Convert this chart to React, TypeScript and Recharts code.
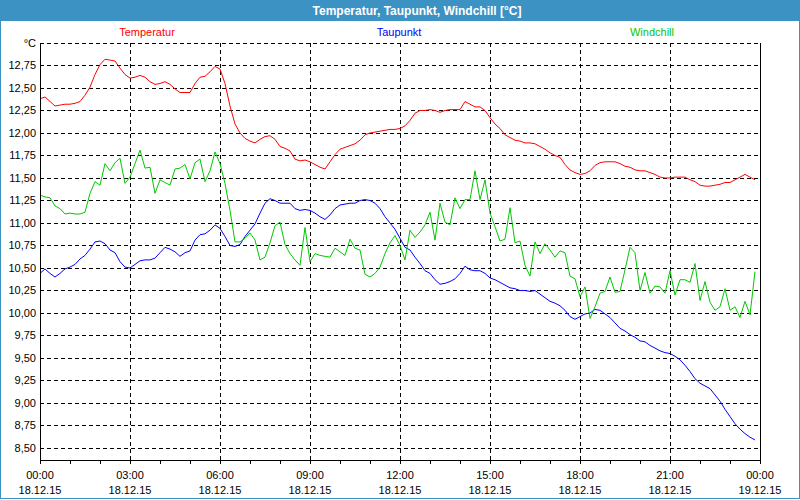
import React from "react";
import { LineChart, Line, XAxis, YAxis, CartesianGrid, ReferenceLine } from "recharts";

// 10-minute samples, 18.12.15 00:00 .. 23:50 (6 per row = one hour)
const temperature = [
  12.38, 12.40, 12.35, 12.30, 12.31, 12.32,
  12.32, 12.33, 12.35, 12.42, 12.51, 12.65,
  12.76, 12.82, 12.81, 12.80, 12.72, 12.65,
  12.61, 12.62, 12.64, 12.62, 12.57, 12.54,
  12.55, 12.57, 12.54, 12.49, 12.45, 12.45,
  12.45, 12.55, 12.62, 12.63, 12.68, 12.74,
  12.71, 12.55, 12.30, 12.10, 12.00, 11.94,
  11.91, 11.89, 11.93, 11.96, 11.97, 11.93,
  11.85, 11.83, 11.80, 11.71, 11.69, 11.70,
  11.68, 11.65, 11.62, 11.60, 11.68, 11.76,
  11.82, 11.84, 11.86, 11.88, 11.92, 11.98,
  12.00, 12.01, 12.02, 12.03, 12.04, 12.04,
  12.05, 12.08, 12.14, 12.22, 12.25, 12.25,
  12.26, 12.25, 12.23, 12.25, 12.26, 12.26,
  12.26, 12.35, 12.32, 12.29, 12.29, 12.25,
  12.17, 12.10, 12.05, 11.98, 11.95, 11.92,
  11.91, 11.89, 11.89, 11.88, 11.85, 11.82,
  11.78, 11.75, 11.73, 11.65, 11.59, 11.56,
  11.54, 11.55, 11.58, 11.64, 11.67, 11.68,
  11.68, 11.68, 11.66, 11.63, 11.62, 11.59,
  11.58, 11.58, 11.56, 11.54, 11.51, 11.50,
  11.50, 11.51, 11.51, 11.51, 11.48, 11.46,
  11.42, 11.41, 11.41, 11.42, 11.43, 11.45,
  11.45, 11.48, 11.51, 11.54, 11.51, 11.48,
];

const dewpoint = [
  10.44, 10.49, 10.44, 10.40, 10.44, 10.49,
  10.51, 10.54, 10.60, 10.64, 10.71, 10.79,
  10.80, 10.77, 10.70, 10.67, 10.57, 10.51,
  10.50, 10.54, 10.58, 10.59, 10.59, 10.61,
  10.67, 10.73, 10.71, 10.68, 10.63, 10.67,
  10.69, 10.81, 10.87, 10.88, 10.92, 10.98,
  10.94, 10.85, 10.75, 10.74, 10.76, 10.85,
  10.92, 10.99, 11.11, 11.22, 11.27, 11.25,
  11.22, 11.22, 11.22, 11.16, 11.14, 11.15,
  11.14, 11.11, 11.07, 11.04, 11.09, 11.16,
  11.20, 11.21, 11.22, 11.22, 11.25, 11.26,
  11.25, 11.22, 11.16, 11.07, 11.00, 10.93,
  10.83, 10.73, 10.70, 10.62, 10.55, 10.47,
  10.44, 10.37, 10.32, 10.33, 10.35, 10.38,
  10.44, 10.52, 10.48, 10.47, 10.47, 10.44,
  10.39, 10.37, 10.34, 10.31, 10.28, 10.27,
  10.25, 10.25, 10.24, 10.25, 10.21, 10.17,
  10.13, 10.11, 10.08, 10.03, 9.96, 9.93,
  9.96, 9.99, 10.00, 10.04, 10.03, 9.99,
  9.95, 9.89, 9.83, 9.80, 9.76, 9.73,
  9.69, 9.68, 9.64, 9.61, 9.58, 9.56,
  9.55, 9.52, 9.48, 9.42, 9.35, 9.27,
  9.22, 9.19, 9.16, 9.09, 9.02, 8.93,
  8.85, 8.77, 8.71, 8.66, 8.62, 8.59,
];

const windchill = [
  11.31, 11.29, 11.28, 11.19, 11.16, 11.10,
  11.11, 11.10, 11.10, 11.12, 11.33, 11.46,
  11.42, 11.66, 11.58, 11.67, 11.72, 11.44,
  11.51, 11.66, 11.81, 11.61, 11.62, 11.33,
  11.48, 11.45, 11.42, 11.60, 11.61, 11.65,
  11.49, 11.67, 11.71, 11.46, 11.58, 11.79,
  11.66, 11.44, 11.14, 10.79, 10.79, 10.83,
  10.89, 10.81, 10.59, 10.62, 10.78, 10.97,
  11.01, 10.76, 10.66, 10.59, 10.53, 10.95,
  10.57, 10.66, 10.64, 10.63, 10.62, 10.72,
  10.68, 10.64, 10.82, 10.72, 10.70, 10.43,
  10.40, 10.44, 10.51, 10.66, 10.78, 10.86,
  10.75, 10.59, 10.92, 10.84, 10.90, 10.98,
  11.12, 10.81, 11.22, 11.01, 10.98, 11.28,
  11.16, 11.26, 11.26, 11.58, 11.26, 11.48,
  11.11, 10.96, 10.80, 10.82, 11.17, 10.78,
  10.80, 10.53, 10.41, 10.79, 10.66, 10.77,
  10.70, 10.62, 10.69, 10.67, 10.41, 10.38,
  10.18, 10.29, 9.94, 10.07, 10.22, 10.24,
  10.40, 10.23, 10.24, 10.48, 10.73, 10.67,
  10.25, 10.45, 10.22, 10.30, 10.29, 10.22,
  10.47, 10.20, 10.37, 10.37, 10.34, 10.55,
  10.14, 10.35, 10.12, 10.03, 10.07, 10.27,
  10.03, 10.07, 9.95, 10.13, 9.98, 10.46,
];

const hourTicks = [0, 1, 2, 3, 4, 5, 6, 7, 8, 9, 10, 11, 12, 13, 14, 15, 16, 17, 18, 19, 20, 21, 22, 23, 24];
const gridHours = [3, 6, 9, 12, 15, 18, 21, 24];
const timeLabels = ["00:00", "03:00", "06:00", "09:00", "12:00", "15:00", "18:00", "21:00", "00:00"];
const dateLabels = ["18.12.15", "18.12.15", "18.12.15", "18.12.15", "18.12.15", "18.12.15", "18.12.15", "18.12.15", "19.12.15"];
const yTicks = [8.5, 8.75, 9, 9.25, 9.5, 9.75, 10, 10.25, 10.5, 10.75, 11, 11.25, 11.5, 11.75, 12, 12.25, 12.5, 12.75, 13];

const data = temperature.map((v, i) => ({
  t: i / 6,
  temp: v,
  dew: dewpoint[i],
  wind: windchill[i],
}));

const FONT = "'Liberation Sans', Arial, sans-serif";
const BAR = "#3d92c4";

const XTick = (props: any) => {
  const { x, y, payload } = props;
  const h = payload.value;
  if (h % 3 !== 0) return null;
  const k = h / 3;
  return (
    <g>
      <text x={x} y={y + 13} textAnchor="middle" fontSize={11} fontFamily={FONT} fill="#000">
        {timeLabels[k]}
      </text>
      <text x={x} y={y + 28} textAnchor="middle" fontSize={11} fontFamily={FONT} fill="#000">
        {dateLabels[k]}
      </text>
    </g>
  );
};

const yFormat = (v: number) => (v >= 12.99 ? "°C" : v.toFixed(2).replace(".", ","));

export default function App() {
  return (
    <div
      style={{
        position: "absolute",
        left: 0,
        top: 0,
        width: 800,
        height: 499,
        background: "#fff",
        boxSizing: "border-box",
        border: `1px solid ${BAR}`,
        fontFamily: FONT,
        overflow: "hidden",
      }}
    >
      <div style={{ position: "absolute", left: -1, top: -1 }}>
        <LineChart width={800} height={500} data={data} margin={{ top: 43, right: 0, bottom: 0, left: 0 }}>
          <CartesianGrid
            yAxisId="left"
            vertical={false}
            stroke="#000"
            strokeDasharray="4 3"
            shapeRendering="crispEdges"
          />
          {gridHours.map((h) => (
            <ReferenceLine
              key={h}
              x={h}
              yAxisId="left"
              stroke="#000"
              strokeDasharray="4 3"
              shapeRendering="crispEdges"
            />
          ))}
          <XAxis
            dataKey="t"
            type="number"
            domain={[0, 24]}
            ticks={hourTicks}
            interval={0}
            height={40}
            tickSize={4}
            stroke="#000"
            axisLine={{ stroke: "#000", shapeRendering: "crispEdges" }}
            tickLine={{ stroke: "#000", shapeRendering: "crispEdges" }}
            tick={<XTick />}
          />
          <YAxis
            yAxisId="left"
            type="number"
            domain={[8.367, 13]}
            ticks={yTicks}
            interval={0}
            allowDataOverflow
            width={40}
            tickSize={0}
            tickMargin={4}
            tickFormatter={yFormat}
            axisLine={{ stroke: "#000", shapeRendering: "crispEdges" }}
            tick={{ fontSize: 11, fontFamily: FONT, fill: "#000" }}
          />
          <YAxis
            yAxisId="right"
            orientation="right"
            type="number"
            domain={[8.367, 13]}
            width={40}
            tick={false}
            tickLine={false}
            axisLine={{ stroke: "#000", shapeRendering: "crispEdges" }}
          />
          <Line yAxisId="left" type="linear" dataKey="temp" stroke="#ff0000" strokeWidth={1} dot={false} isAnimationActive={false} />
          <Line yAxisId="left" type="linear" dataKey="dew" stroke="#0000ff" strokeWidth={1} dot={false} isAnimationActive={false} />
          <Line yAxisId="left" type="linear" dataKey="wind" stroke="#00c800" strokeWidth={1} dot={false} isAnimationActive={false} />
        </LineChart>
      </div>
      <div
        style={{
          position: "absolute",
          left: 0,
          top: 0,
          width: 798,
          height: 20,
          background: BAR,
        }}
      />
      <svg width={800} height={40} style={{ position: "absolute", left: -1, top: -1 }}>
        <text x={417} y={15} textAnchor="middle" fontSize={12} fontWeight="bold" fontFamily={FONT} fill="#fff">
          Temperatur, Taupunkt, Windchill [°C]
        </text>
        <text x={147} y={36} textAnchor="middle" fontSize={11} fontFamily={FONT} fill="#ff0000">
          Temperatur
        </text>
        <text x={399} y={36} textAnchor="middle" fontSize={11} fontFamily={FONT} fill="#0000ff">
          Taupunkt
        </text>
        <text x={652} y={36} textAnchor="middle" fontSize={11} fontFamily={FONT} fill="#00c800">
          Windchill
        </text>
      </svg>
    </div>
  );
}
